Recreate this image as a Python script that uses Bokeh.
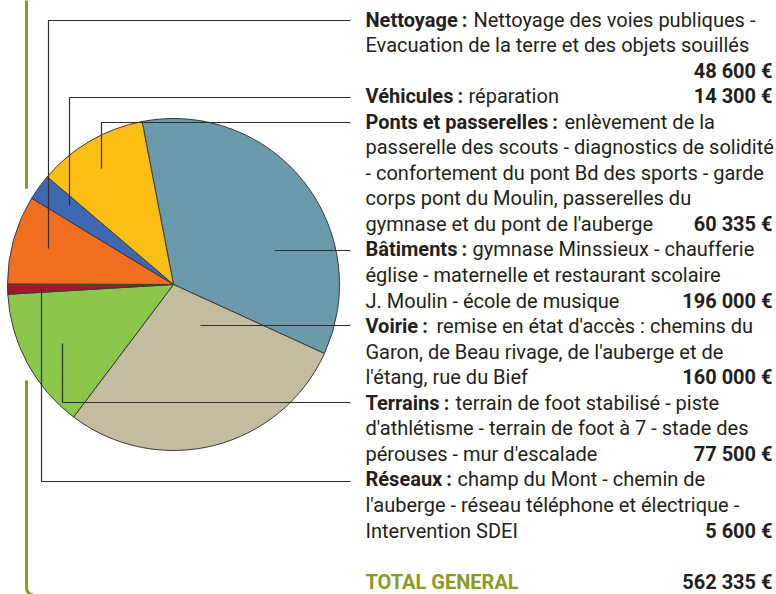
import numpy as np
from bokeh.plotting import figure
from bokeh.models import Range1d
from bokeh.embed import file_html
from bokeh.resources import INLINE
from bokeh.core.properties import value

# ---------------- data ----------------
categories = ["Bâtiments", "Voirie", "Terrains", "Réseaux", "Nettoyage", "Véhicules", "Ponts et passerelles"]
amounts = [196000, 160000, 77500, 5600, 48600, 14300, 60335]
colors = ["#6b9aab", "#c3bca0", "#8cc64b", "#a3182d", "#f26f22", "#3f68b2", "#fbbe15"]
total_label = "TOTAL GENERAL"

headings = {
    "Nettoyage": "Nettoyage\u2009:",
    "Véhicules": "Véhicules\u2009:",
    "Ponts et passerelles": "Ponts et passerelles\u2009:",
    "Bâtiments": "Bâtiments\u2009:",
    "Voirie": "Voirie\u2009:",
    "Terrains": "Terrains\u2009:",
    "Réseaux": "Réseaux\u2009:",
}
descriptions = {
    "Nettoyage": ["Nettoyage des voies publiques -", "Evacuation de la terre et des objets souillés", ""],
    "Véhicules": ["réparation"],
    "Ponts et passerelles": ["enlèvement de la", "passerelle des scouts - diagnostics de solidité",
                             "- confortement du pont Bd des sports - garde",
                             "corps pont du Moulin, passerelles du", "gymnase et du pont de l'auberge"],
    "Bâtiments": ["gymnase Minssieux - chaufferie", "église - maternelle et restaurant scolaire",
                  "J. Moulin - école de musique"],
    "Voirie": ["remise en état d'accès : chemins du", "Garon, de Beau rivage, de l'auberge et de",
               "l'étang, rue du Bief"],
    "Terrains": ["terrain de foot stabilisé - piste", "d'athlétisme - terrain de foot à 7 - stade des",
                 "pérouses - mur d'escalade"],
    "Réseaux": ["champ du Mont - chemin de", "l'auberge - réseau téléphone et électrique -",
                "Intervention SDEI"],
}
text_order = ["Nettoyage", "Véhicules", "Ponts et passerelles", "Bâtiments", "Voirie", "Terrains", "Réseaux"]

# ---------------- layout ----------------
W, H = 776, 594
FONT = "Roboto"
FS = "20px"
DARK = "#231f20"
OLIVE = "#8a9b1f"
LINE_C = "#2e2e2e"

def fmt(v):
    return f"{v:,}".replace(",", " ") + " €"

p = figure(width=W, height=H, output_backend="svg", toolbar_location=None,
           x_axis_type=None, y_axis_type=None, min_border=0,
           x_range=Range1d(0, W), y_range=Range1d(0, H))
p.outline_line_color = None
p.grid.visible = False
p.background_fill_color = "white"
p.border_fill_color = "white"

def Y(y):
    return H - y

# green side bar
p.line([26, 26], [Y(0), Y(187)], line_color=OLIVE, line_width=3, line_cap="round")
p.line([26, 26, 26.6, 28.5, 32], [Y(381), Y(587), Y(590.5), Y(593), Y(594.5)],
       line_color=OLIVE, line_width=3, line_cap="round", line_join="round")

# pie
cx, cy, r = 173, Y(284), 166
start = np.deg2rad(100.9)
vals = np.array(amounts, dtype=float)
frac = vals / vals.sum()
cum = np.concatenate([[0], np.cumsum(frac)])
a_start = start - 2 * np.pi * cum[:-1]
a_end = start - 2 * np.pi * cum[1:]
p.wedge(x=[cx] * len(vals), y=[cy] * len(vals), radius=r,
        start_angle=list(a_end), end_angle=list(a_start), direction="anticlock",
        fill_color=colors, line_color="#3a3a3a", line_width=1)

# leader lines
leaders = {
    "Nettoyage": [(350, 20), (48, 20), (48, 248)],
    "Véhicules": [(350, 97), (69, 97), (69, 205)],
    "Ponts et passerelles": [(350, 122), (101, 122), (101, 168)],
    "Bâtiments": [(350, 250), (274, 250)],
    "Voirie": [(350, 325), (200, 325)],
    "Terrains": [(350, 402), (62, 402), (62, 343)],
    "Réseaux": [(350, 481), (41, 481), (41, 288)],
}
xs = [[pt[0] for pt in leaders[c]] for c in text_order]
ys = [[Y(pt[1]) for pt in leaders[c]] for c in text_order]
p.multi_line(xs, ys, line_color=LINE_C, line_width=1.2)

# texts
X0, XR = 365, 772
B0, DY = 19, 25.55
reg_x = {"Nettoyage": 473, "Véhicules": 468, "Ponts et passerelles": 564, "Bâtiments": 472,
         "Voirie": 436, "Terrains": 455, "Réseaux": 457}

bold_t, bold_x, bold_y = [], [], []
reg_t, reg_xx, reg_y = [], [], []
amt_t, amt_y = [], []
line = 0
amt_map = dict(zip(categories, amounts))
for c in text_order:
    bold_t.append(headings[c]); bold_x.append(X0); bold_y.append(Y(B0 + DY * line))
    desc = descriptions[c]
    for i, d in enumerate(desc):
        if d:
            reg_t.append(d)
            reg_xx.append(reg_x[c] if i == 0 else X0)
            reg_y.append(Y(B0 + DY * (line + i)))
    last = line + len(desc) - 1
    amt_t.append(fmt(amt_map[c])); amt_y.append(Y(B0 + DY * last))
    line = last + 1

p.text(x=bold_x, y=bold_y, text=bold_t, text_font=value(FONT), text_font_size=FS,
       text_font_style="bold", text_color=DARK, text_baseline="alphabetic", text_align="left")
p.text(x=reg_xx, y=reg_y, text=reg_t, text_font=value(FONT), text_font_size=FS,
       text_color=DARK, text_baseline="alphabetic", text_align="left")
p.text(x=[XR] * len(amt_t), y=amt_y, text=amt_t, text_font=value(FONT), text_font_size=FS,
       text_font_style="bold", text_color=DARK, text_baseline="alphabetic", text_align="right")

total_line = line + 1
p.text(x=[X0], y=[Y(B0 + DY * total_line)], text=[total_label], text_font=value(FONT),
       text_font_size=FS, text_font_style="bold", text_color=OLIVE,
       text_baseline="alphabetic", text_align="left")
p.text(x=[XR], y=[Y(B0 + DY * total_line)], text=[fmt(int(vals.sum()))], text_font=value(FONT),
       text_font_size=FS, text_font_style="bold", text_color=DARK,
       text_baseline="alphabetic", text_align="right")

open("out.html", "w").write(file_html(p, INLINE))
